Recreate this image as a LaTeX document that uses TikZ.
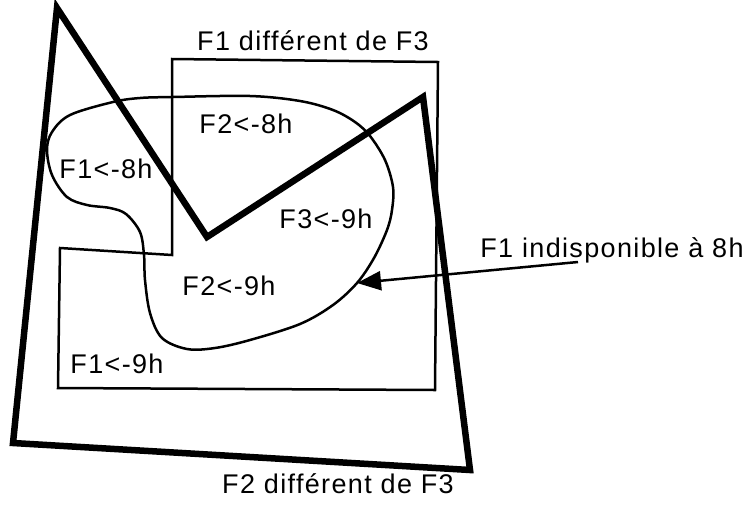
\documentclass[tikz,border=0pt]{standalone}
\usepackage{fontspec}
\setmainfont{Liberation Sans}[LetterSpace=5]
\usetikzlibrary{arrows.meta}
\begin{document}
\begin{tikzpicture}[x=1pt,y=-1pt,
  lbl/.style={font=\fontsize{27}{31}\selectfont, inner sep=0pt, anchor=base},
  thickline/.style={line width=6.5pt, line join=miter},
  thinline/.style={line width=2.5pt, line join=miter},
  pointer/.style={line width=2.5pt, -{Triangle[length=24pt,width=19pt]}}]
\useasboundingbox (0,0) rectangle (749,504);
\fill[white] (0,0) rectangle (749,504);
% thin polygon (F1 different de F3)
\draw[thinline] (172,59) -- (438,62) -- (435,390) -- (58,388) -- (60,248) -- (172,255) -- cycle;
% blob
\draw[thinline] plot[smooth cycle, tension=0.55] coordinates {
 (173,97) (250,96) (300,101) (333,110) (355,122) (370,136) (385,160) (393,187)
 (392,210) (387,230) (374,258) (357,283) (333,305) (300,324) (250,340) (215,348)
 (187,349) (162,338) (150,313) (145,280) (144,255) (140,232) (126,214) (110,208)
 (87,205) (67,197) (52,175) (47,150) (52,132) (70,115) (113,102) (140,98)};
% thick polygon (F2 different de F3)
\draw[thickline] (57,8) -- (207,237) -- (423,97) -- (470,470) -- (13,443) -- cycle;
% labels
\node[lbl] (t1) at (313,50) {F1 différent de F3};
\node[lbl] (a) at (246,133) {F2<-8h};
\node[lbl] (b) at (106,178) {F1<-8h};
\node[lbl] (c) at (326,228) {F3<-9h};
\node[lbl] (d) at (229,295) {F2<-9h};
\node[lbl] (e) at (117,373) {F1<-9h};
\node[lbl] (ind) at (612,257) {F1 indisponible à 8h};
\node[lbl] (t2) at (338,493) {F2 différent de F3};
% arrow
\coordinate (as) at (578,262);
\coordinate (tip) at (357,283);
\draw[pointer] (as) -- (tip);
\end{tikzpicture}
\end{document}
